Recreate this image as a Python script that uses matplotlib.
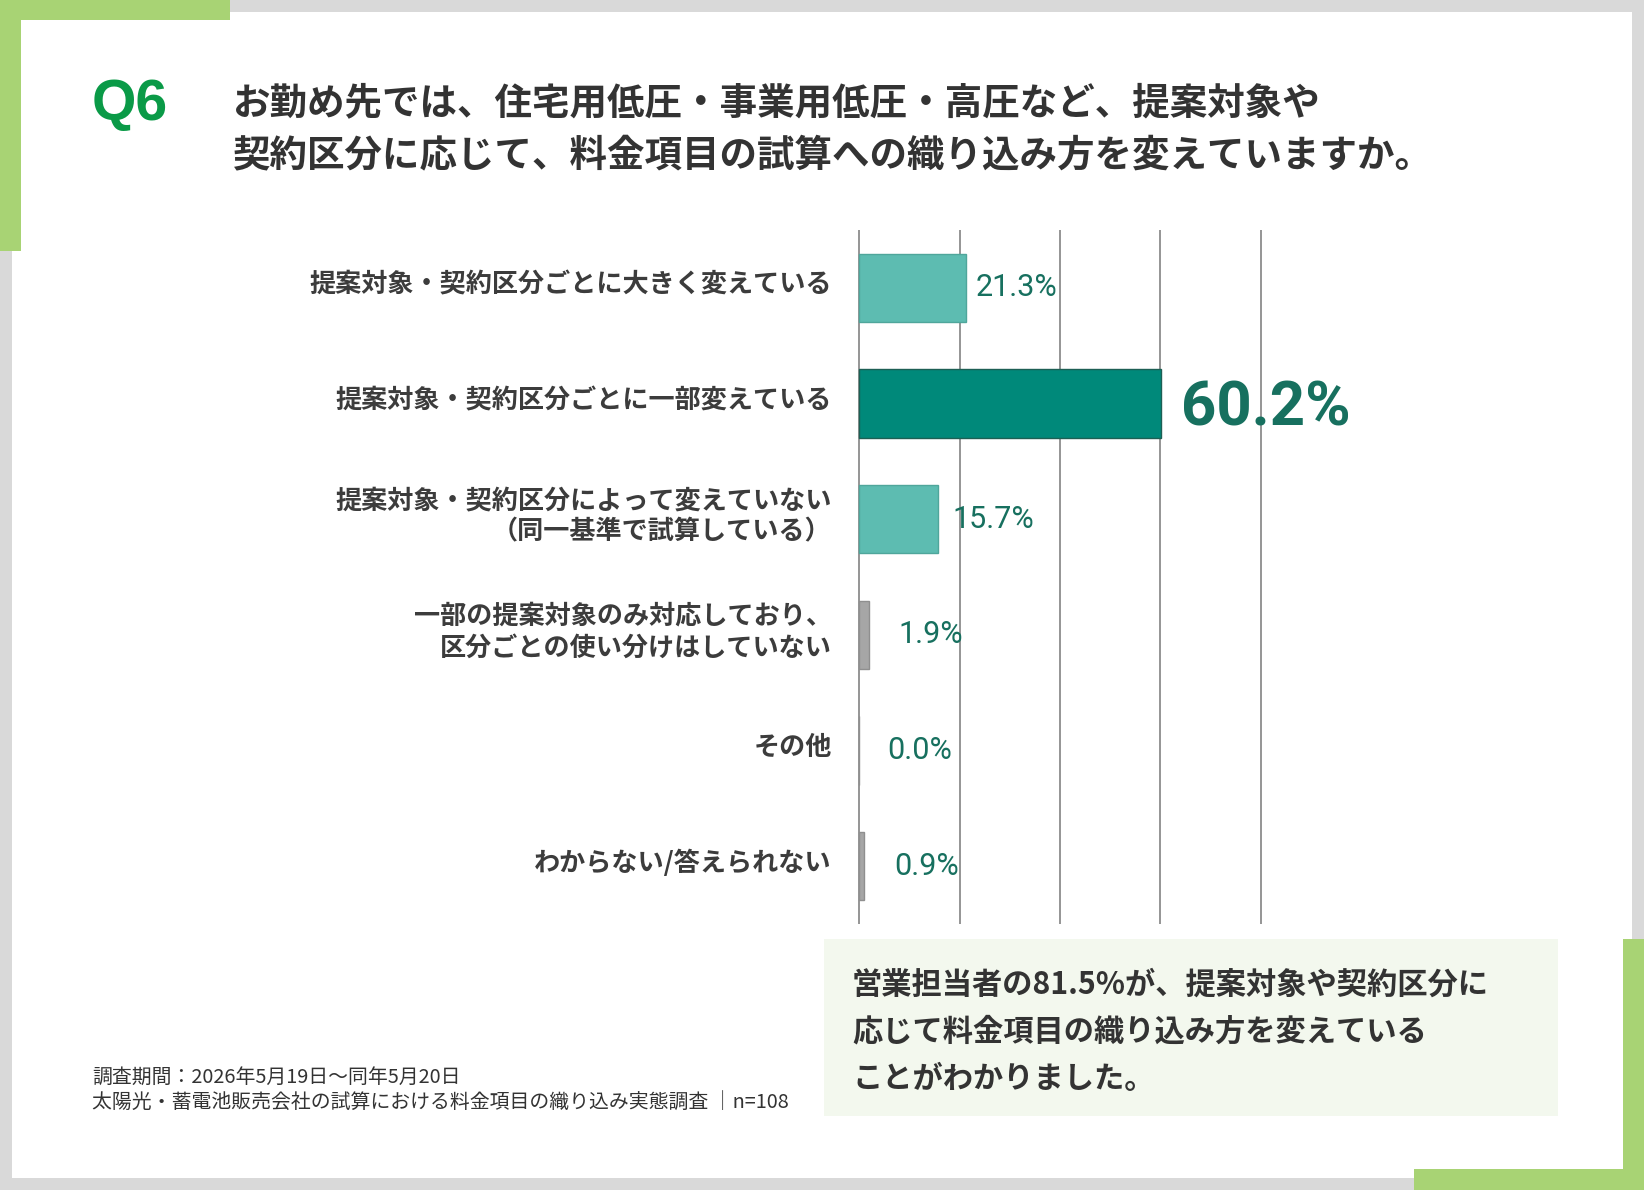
import matplotlib
matplotlib.use("Agg")
import matplotlib.pyplot as plt
from matplotlib.patches import Rectangle

# ---------------- data ----------------
categories = [
    "提案対象・契約区分ごとに大きく変えている",
    "提案対象・契約区分ごとに一部変えている",
    "提案対象・契約区分によって変えていない\n（同一基準で試算している）",
    "一部の提案対象のみ対応しており、\n区分ごとの使い分けはしていない",
    "その他",
    "わからない/答えられない",
]
values = [21.3, 60.2, 15.7, 1.9, 0.0, 0.9]
value_labels = ["21.3%", "60.2%", "15.7%", "1.9%", "0.0%", "0.9%"]
x_ticks = [0, 20, 40, 60, 80]

title_q = "Q6"
title_lines = [
    "お勤め先では、住宅用低圧・事業用低圧・高圧など、提案対象や",
    "契約区分に応じて、料金項目の試算への織り込み方を変えていますか。",
]
summary_lines = [
    "営業担当者の81.5%が、提案対象や契約区分に",
    "応じて料金項目の織り込み方を変えている",
    "ことがわかりました。",
]
footnote_lines = [
    "調査期間：2026年5月19日～同年5月20日",
    "太陽光・蓄電池販売会社の試算における料金項目の織り込み実態調査 │n=108",
]

# ---------------- styles ----------------
W, H = 1644, 1190
CJK = ["Noto Sans CJK JP", "DejaVu Sans"]
bar_colors = ["#5dbcb1", "#00897a", "#5dbcb1", "#a6a6a6", "#a6a6a6", "#a6a6a6"]
edge_colors = ["#4fa69b", "#1d5f54", "#4fa69b", "#8f8f8f", "#8f8f8f", "#8f8f8f"]
label_offsets_px = [10, 20, 15, 30, 28, 31]
label_dy_px = [0, -5, 0, 0, 0, 0]
label_sizes = [22, 44.5, 22, 22, 22, 22]
label_weights = ["normal", "bold", "normal", "normal", "normal", "normal"]
grey_bg = "#d9d9d9"
green_acc = "#a8d374"


def fx(x):
    return x / W


def fy(y):
    return 1 - y / H


fig = plt.figure(figsize=(W / 100, H / 100), dpi=100)
fig.patch.set_facecolor(grey_bg)

def frect(x0, y0, x1, y1, color, z):
    fig.patches.append(Rectangle((fx(x0), fy(y1)), fx(x1) - fx(x0), fy(y0) - fy(y1),
                                 transform=fig.transFigure, facecolor=color,
                                 edgecolor="none", zorder=z))

# white panel and green accents
frect(12, 12, 1632, 1178, "white", 0)
frect(0, 0, 230, 20, green_acc, 1)
frect(0, 0, 21, 251, green_acc, 1)
frect(1623, 939, 1644, 1190, green_acc, 1)
frect(1414, 1169, 1644, 1190, green_acc, 1)
# summary box
frect(824, 939, 1558, 1116, "#f3f8ee", 1)

# ---------------- titles ----------------
fig.text(fx(92), fy(105), title_q, fontsize=41, fontweight="bold",
         color="#0a9a47", family=["Liberation Sans", "DejaVu Sans"],
         ha="left", va="center")
title_y = [103, 155]
for line, y in zip(title_lines, title_y):
    fig.text(fx(233), fy(y), line, fontsize=27, fontweight="bold", color="#333333",
             family=CJK, ha="left", va="center")

# ---------------- chart ----------------
x_left_px, x_right_px = 854, 1266
y_top_px, y_bot_px = 230, 924
ax = fig.add_axes([fx(x_left_px), fy(y_bot_px), fx(x_right_px) - fx(x_left_px),
                   fy(y_top_px) - fy(y_bot_px)])
ax.set_zorder(5)
ax.set_facecolor("none")
ypos = list(range(len(categories)))
ax.barh(ypos, values, height=0.59, color=bar_colors, edgecolor=edge_colors,
        linewidth=1.0, zorder=2)
ax.set_xlim(-1, 81)
ax.set_ylim(len(categories) - 0.5, -0.5)
ax.set_xticks(x_ticks)
ax.xaxis.grid(True, color="#8c8c8c", linewidth=1.3)
ax.set_axisbelow(True)
ax.tick_params(axis="x", length=0, labelbottom=False)
ax.set_yticks([])
for s in ax.spines.values():
    s.set_visible(False)

# category labels (right aligned, slightly above bar centre)
for i, cat in enumerate(categories):
    ax.annotate(cat, xy=(0, i), xycoords=ax.get_yaxis_transform(),
                xytext=(-16, 2), textcoords="offset points",
                ha="right", va="center", multialignment="right",
                family=CJK, fontsize=18.8, fontweight="bold", color="#3c3c3c",
                linespacing=1.22, annotation_clip=False)

for i, (v, lab) in enumerate(zip(values, value_labels)):
    ax.annotate(lab, xy=(v, i), xytext=(label_offsets_px[i] * 0.72, label_dy_px[i] * 0.72),
                textcoords="offset points", ha="left", va="center",
                fontsize=label_sizes[i], fontweight=label_weights[i],
                color="#17705f", family=["Roboto", "DejaVu Sans"],
                annotation_clip=False)

# ---------------- summary text ----------------
summary_y = [985, 1031, 1079]
for line, y in zip(summary_lines, summary_y):
    fig.text(fx(852), fy(y), line, fontsize=21.8, fontweight="bold", color="#333333",
             family=CJK, ha="left", va="center", zorder=3)

# ---------------- footnotes ----------------
foot_y = [1077, 1103]
for line, y in zip(footnote_lines, foot_y):
    fig.text(fx(92), fy(y), line, fontsize=14.3, color="#333333", family=CJK,
             ha="left", va="center")

fig.savefig("out.png", dpi=100, facecolor=fig.get_facecolor())
